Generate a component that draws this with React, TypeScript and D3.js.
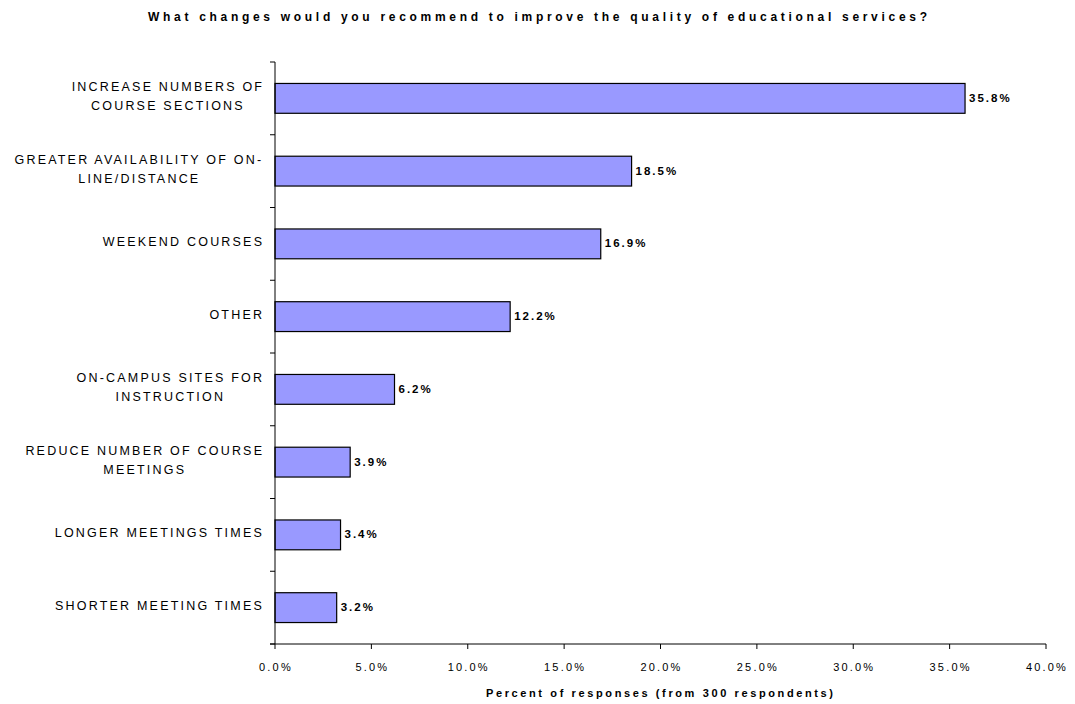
import React from "react";
import * as d3 from "d3";

const categories: string[][] = [
  ["INCREASE NUMBERS OF", "COURSE SECTIONS"],
  ["GREATER AVAILABILITY OF ON-", "LINE/DISTANCE"],
  ["WEEKEND COURSES"],
  ["OTHER"],
  ["ON-CAMPUS SITES FOR", "INSTRUCTION"],
  ["REDUCE NUMBER OF COURSE", "MEETINGS"],
  ["LONGER MEETINGS TIMES"],
  ["SHORTER MEETING TIMES"],
];
const values: number[] = [35.8, 18.5, 16.9, 12.2, 6.2, 3.9, 3.4, 3.2];
const xTicks: number[] = [0, 5, 10, 15, 20, 25, 30, 35, 40];
const title = "What changes would you recommend to improve the quality of educational services?";
const xTitle = "Percent of responses (from 300 respondents)";

const FONT = "'Liberation Sans', Arial, sans-serif";
const LABEL_SIZE = 12.5;
const LABEL_SP = 2.2;

let ctx: CanvasRenderingContext2D | null = null;
function measure(s: string): number {
  if (!ctx) {
    const c = document.createElement("canvas");
    ctx = c.getContext("2d");
  }
  if (!ctx) return s.length * 8;
  ctx.font = `${LABEL_SIZE}px ${FONT}`;
  return ctx.measureText(s).width + LABEL_SP * (s.length - 1);
}

export default function App() {
  const W = 1075, H = 704;
  const left = 275, right = 1046, top = 62, bottom = 644;
  const labelRight = 262;
  const x = d3.scaleLinear().domain([0, 40]).range([left, right]);
  const y = d3.scaleBand<number>().domain(d3.range(categories.length)).range([top, bottom]).paddingInner(0.59).paddingOuter(0.295);
  const step = y.step();
  return (
    <svg width={W} height={H} style={{ position: "absolute", left: 0, top: 0, background: "#fff" }} fontFamily={FONT}>
      <text x={148} y={21} fontSize={12} fontWeight="bold" textLength={779} lengthAdjust="spacing" fill="#000">{title}</text>
      {values.map((v, i) => (
        <g key={i}>
          <rect x={x(0)} y={y(i)!} width={x(v) - x(0)} height={y.bandwidth()} fill="#9999ff" stroke="#000" strokeWidth={1.2} />
          <text x={x(v) + 4} y={y(i)! + y.bandwidth() / 2 + 3.5} fontSize={11.5} fontWeight="bold" letterSpacing={2} fill="#000">{v.toFixed(1)}%</text>
        </g>
      ))}
      {categories.map((lines, i) => {
        const cy = y(i)! + y.bandwidth() / 2;
        const lh = 19;
        const start = cy + 2.5 - ((lines.length - 1) * lh) / 2;
        const maxW = Math.max(...lines.map(measure));
        const cx = labelRight - maxW / 2;
        return (
          <g key={i}>
            {lines.map((l, j) => {
              const w = measure(l);
              return (
                <text key={j} x={cx - w / 2} y={start + j * lh} fontSize={LABEL_SIZE} letterSpacing={LABEL_SP} fill="#000">{l}</text>
              );
            })}
          </g>
        );
      })}
      <line x1={left} x2={left} y1={top} y2={bottom} stroke="#000" />
      <line x1={left - 5} x2={right} y1={bottom} y2={bottom} stroke="#000" />
      {d3.range(categories.length + 1).map((k) => (
        <line key={k} x1={left - 5} x2={left} y1={top + k * step} y2={top + k * step} stroke="#000" />
      ))}
      {xTicks.map((t) => (
        <g key={t}>
          <line x1={x(t)} x2={x(t)} y1={bottom} y2={bottom + 5} stroke="#000" />
          <text x={x(t) + 1} y={bottom + 27} textAnchor="middle" fontSize={11} letterSpacing={2.2} fill="#000">{t.toFixed(1)}%</text>
        </g>
      ))}
      <text x={486} y={697} fontSize={11} fontWeight="bold" textLength={347} lengthAdjust="spacing" fill="#000">{xTitle}</text>
    </svg>
  );
}
